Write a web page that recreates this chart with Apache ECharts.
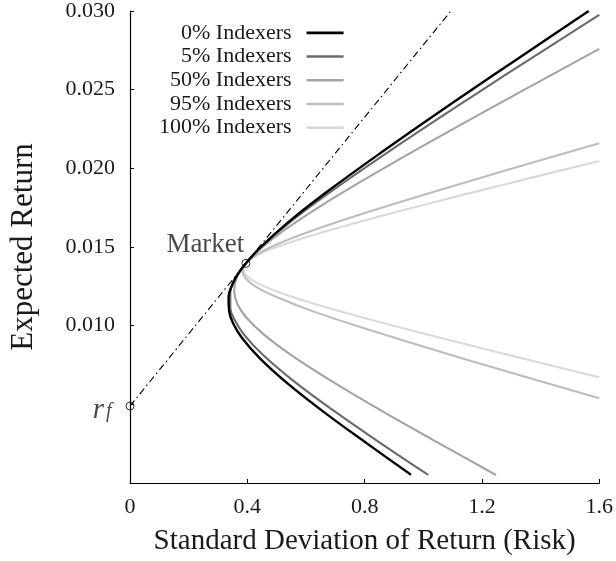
<!DOCTYPE html>
<html>
<head>
<meta charset="utf-8">
<script src="https://cdn.jsdelivr.net/npm/echarts@6/dist/echarts.min.js"></script>
<style>
html,body{margin:0;padding:0;background:#fff;}
#chart{width:616px;height:561px;}
</style>
</head>
<body>
<div id="chart"></div>
<script>
// ---- data ----
const seriesNames = ['0% Indexers', '5% Indexers', '50% Indexers', '95% Indexers', '100% Indexers'];
const seriesColors = ['#000000', '#6a6a6a', '#a4a4a4', '#bdbdbd', '#d9d9d9'];

const frontier0 = [
  [0.958,0.00053],[0.806,0.00254],[0.666,0.00444],[0.536,0.00635],[0.442,0.00794],
  [0.382,0.00921],[0.351,0.01017],[0.338,0.01093],[0.336,0.01176],[0.351,0.01271],
  [0.370,0.01334],[0.395,0.01396],[0.442,0.01493],[0.536,0.01652],[0.666,0.01843],
  [0.854,0.02097],[1.099,0.02415],[1.350,0.02732],[1.564,0.03000]
];
const frontier5 = [
  [1.017,0.00051],[0.839,0.00273],[0.692,0.00463],[0.554,0.00654],[0.454,0.00813],
  [0.390,0.00940],[0.357,0.01036],[0.342,0.01112],[0.342,0.01214],[0.357,0.01290],
  [0.377,0.01353],[0.395,0.01396],[0.454,0.01512],[0.554,0.01671],[0.692,0.01862],
  [0.890,0.02116],[1.148,0.02434],[1.412,0.02752],[1.600,0.02975]
];
const frontier50 = [
  [1.248,0.00051],[1.034,0.00273],[0.854,0.00463],[0.682,0.00654],[0.550,0.00813],
  [0.459,0.00940],[0.398,0.01049],[0.366,0.01138],[0.355,0.01226],[0.366,0.01315],
  [0.395,0.01396],[0.439,0.01480],[0.526,0.01607],[0.682,0.01798],[0.913,0.02052],
  [1.218,0.02370],[1.600,0.02759]
];
const frontier95 = [
  [1.600,0.00538],[1.277,0.00713],[0.991,0.00872],[0.772,0.00999],[0.620,0.01094],
  [0.514,0.01171],[0.442,0.01234],[0.399,0.01292],[0.384,0.01349],[0.395,0.01396],
  [0.442,0.01463],[0.514,0.01527],[0.620,0.01603],[0.772,0.01698],[0.991,0.01825],
  [1.277,0.01984],[1.600,0.02159]
];
const frontier100 = [
  [1.600,0.00672],[1.280,0.00819],[1.010,0.00946],[0.790,0.01054],[0.622,0.01143],
  [0.508,0.01213],[0.435,0.01270],[0.395,0.01321],[0.386,0.01359],[0.395,0.01396],
  [0.435,0.01448],[0.508,0.01505],[0.622,0.01575],[0.790,0.01664],[1.010,0.01772],
  [1.280,0.01899],[1.600,0.02047]
];
const cmlLine = [[0, 0.00489], [1.094, 0.030]];
const marketPoint = [0.395, 0.01396];
const riskFreePoint = [0, 0.00489];

const xTickLabels = ['0', '0.4', '0.8', '1.2', '1.6'];
const yTickLabels = ['', '', '0.010', '0.015', '0.020', '0.025', '0.030'];

// ---- chart ----
const FONT = 'Liberation Serif';
const TXT = '#1a1a1a';
const frontiers = [frontier0, frontier5, frontier50, frontier95, frontier100];
const chart = echarts.init(document.getElementById('chart'), null, {renderer: 'canvas'});

const lineSeries = frontiers.map((d, i) => ({
  name: seriesNames[i],
  type: 'line',
  data: d,
  smooth: 0.4,
  symbol: 'none',
  z: 10 - i,
  lineStyle: {color: seriesColors[i], width: i === 0 ? 2.4 : 2.1},
  itemStyle: {color: seriesColors[i]},
  emphasis: {disabled: true},
  silent: true
}));

chart.setOption({
  animation: false,
  backgroundColor: '#ffffff',
  textStyle: {fontFamily: FONT},
  grid: {left: 130, right: 13, top: 11, bottom: 78},
  legend: {
    data: seriesNames.map(n => ({name: n, icon: 'rect'})),
    orient: 'vertical',
    align: 'right',
    left: 154,
    top: 16,
    itemWidth: 37,
    itemHeight: 2.6,
    itemGap: 0,
    selectedMode: false,
    textStyle: {fontFamily: FONT, fontSize: 22, color: TXT, lineHeight: 23.7, padding: [0, 10, 0, 0]}
  },
  xAxis: {
    type: 'value', min: 0, max: 1.6, interval: 0.4,
    name: 'Standard Deviation of Return (Risk)',
    nameLocation: 'middle', nameGap: 44,
    nameTextStyle: {fontFamily: FONT, fontSize: 29, color: TXT},
    axisLine: {show: true, lineStyle: {color: '#000', width: 1.2}},
    axisTick: {show: true, inside: true, length: 4, lineStyle: {color: '#000'}},
    axisLabel: {fontFamily: FONT, fontSize: 22, color: TXT, margin: 13,
      formatter: (v) => xTickLabels[Math.round(v / 0.4)]},
    splitLine: {show: false}
  },
  yAxis: {
    type: 'value', min: 0, max: 0.03, interval: 0.005,
    name: 'Expected Return',
    nameLocation: 'middle', nameGap: 91,
    nameTextStyle: {fontFamily: FONT, fontSize: 31, color: TXT},
    axisLine: {show: true, lineStyle: {color: '#000', width: 1.2}},
    axisTick: {show: true, inside: true, length: 4, lineStyle: {color: '#000'}},
    axisLabel: {fontFamily: FONT, fontSize: 22, color: TXT, margin: 15,
      formatter: (v) => yTickLabels[Math.round(v / 0.005)]},
    splitLine: {show: false}
  },
  series: lineSeries.concat([
    {
      name: 'CML', type: 'line', data: cmlLine, symbol: 'none', z: 12, silent: true,
      lineStyle: {color: '#000', width: 1.1, type: [7, 3.5, 1.5, 3.5]}
    },
    {
      name: 'points', type: 'scatter', z: 20, silent: true,
      symbol: 'circle', symbolSize: 8,
      itemStyle: {color: 'rgba(0,0,0,0)', borderColor: '#000', borderWidth: 1},
      data: [
        {value: marketPoint, label: {show: true, formatter: 'Market', position: 'left',
          distance: 2, offset: [5, -18], fontFamily: FONT, fontSize: 27, color: TXT}},
        {value: riskFreePoint, label: {show: true, formatter: '{r|r}{f|f}', position: 'left',
          distance: 14, offset: [0, 3],
          rich: {
            r: {fontFamily: FONT, fontStyle: 'italic', fontSize: 29, color: TXT, verticalAlign: 'top', lineHeight: 26},
            f: {fontFamily: FONT, fontStyle: 'italic', fontSize: 20, color: TXT, verticalAlign: 'bottom', lineHeight: 19, padding: [11, 0, 0, 2]}
          }}}
      ]
    }
  ])
});
</script>
</body>
</html>
